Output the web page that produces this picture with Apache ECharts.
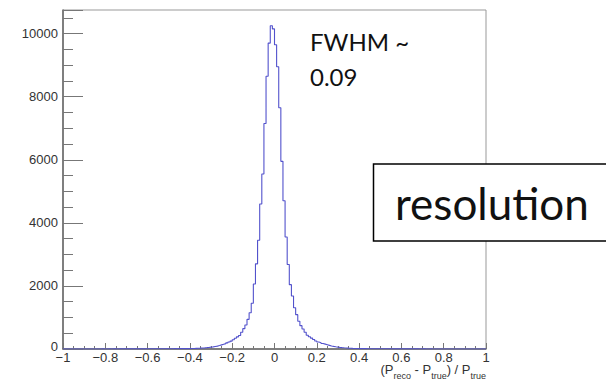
<!DOCTYPE html>
<html>
<head>
<meta charset="utf-8">
<script src="https://cdn.jsdelivr.net/npm/echarts@6/dist/echarts.min.js"></script>
<style>
html,body{margin:0;padding:0;background:#fff;}
#chart{width:606px;height:381px;}
</style>
</head>
<body>
<div id="chart"></div>
<script>
// Histogram definition: 200 bins from -1 to 1
const binLow = -1;
const binWidth = 0.01;
// Bin contents (left edge -1 ... right edge 1)
const counts = [
  1,0,1,1,0,1,1,2,1,1, 1,2,1,2,2,1,2,2,3,2,
  2,3,2,3,3,2,3,4,3,4, 4,3,5,4,4,5,5,6,5,6,
  6,7,6,7,8,7,8,9,8,10, 9,10,11,10,12,11,13,12,14,13,
  14,17,20,23,27,32,37,43,50,58,
  68,80,92,110,130,150,170,195,220,250,
  295,340,385,430,530,645,760,940,1150,1450,
  2060,2700,3450,4600,5550,7150,8650,9700,10250,10150,
  9650,8950,7650,5950,4700,3550,2680,2040,1680,1310,
  1090,880,740,635,530,435,390,345,300,255,
  222,200,175,155,135,115,95,82,70,60,
  52,45,39,34,29,25,21,18,15,13,
  12,11,11,10,9,10,8,9,8,7, 7,6,7,6,5,6,5,5,4,5,
  4,4,3,4,3,3,4,3,2,3, 3,2,2,3,2,2,1,2,2,1,
  2,1,1,2,1,1,1,0,1,1, 1,0,1,1,0,1,0,1,0,1
];
const xMin = -1, xMax = 1, xStep = 0.2;
const yMin = 0, yMax = 10750, yStep = 2000, yMinorStep = 500;
const xTitleParts = ['(P', 'reco', ' - P', 'true', ') / P', 'true'];
const noteLines = ['FWHM ~', '0.09'];
const boxLabel = 'resolution';

const histData = counts.map((v, i) => [binLow + i * binWidth, v]);
histData.push([binLow + counts.length * binWidth, counts[counts.length - 1]]);

const chart = echarts.init(document.getElementById('chart'), null, {renderer: 'svg'});

const labelFont = {fontFamily: 'Liberation Sans', fontSize: 13, color: '#333', lineHeight: 9};
const rich = {
  m: {fontFamily: 'Liberation Sans', fontSize: 13, lineHeight: 14, verticalAlign: 'top', fill: '#333'},
  s: {fontFamily: 'Liberation Sans', fontSize: 9, lineHeight: 9, padding: [8, 0, 0, 0], verticalAlign: 'top', fill: '#333'}
};
const titleText = xTitleParts.map((p, i) => (i % 2 === 0 ? '{m|' : '{s|') + p + '}').join('');

chart.setOption({
  animation: false,
  backgroundColor: '#fff',
  grid: {left: 63, right: 120, top: 10, bottom: 32, show: true, borderColor: '#999', borderWidth: 1, backgroundColor: 'transparent'},
  xAxis: {
    type: 'value', min: xMin, max: xMax, interval: xStep,
    axisLine: {onZero: false, lineStyle: {color: '#666', width: 1.5}},
    axisTick: {inside: true, length: 6, lineStyle: {color: '#777'}},
    minorTick: {show: true, splitNumber: 4, length: 3, lineStyle: {color: '#777'}},
    splitLine: {show: false},
    axisLabel: Object.assign({margin: 4, formatter: v => {
      const r = Math.round(v * 10) / 10;
      return r < 0 ? '\u2212' + Math.abs(r) : String(r);
    }}, labelFont)
  },
  yAxis: [{
    type: 'value', min: yMin, max: yMax, interval: yStep, position: 'left',
    axisLine: {show: true, onZero: false, lineStyle: {color: '#666', width: 1.5}},
    axisTick: {show: true, inside: true, length: 20, lineStyle: {color: '#777'}},
    splitLine: {show: false},
    axisLabel: Object.assign({
      margin: 5,
      formatter: v => (v % yStep !== 0 ? '' : (v === yMin ? '{z|' + v + '}' : String(v))),
      rich: {z: {fontFamily: 'Liberation Sans', fontSize: 13, color: '#333', lineHeight: 9, padding: [0, 0, 5, 0]}}
    }, labelFont)
  }, {
    type: 'value', min: yMin, max: yMax, interval: yMinorStep, position: 'left', offset: 0,
    axisLine: {show: false, onZero: false},
    axisTick: {show: true, inside: true, length: 10, lineStyle: {color: '#777'}},
    axisLabel: {show: false},
    splitLine: {show: false}
  }],
  series: [{
    type: 'line', step: 'end', data: histData, yAxisIndex: 0,
    symbol: 'none', showSymbol: false,
    lineStyle: {color: '#5252cc', width: 1.1}
  }],
  graphic: [
    {type: 'text', x: 486, y: 363, z: 50, style: {text: titleText, align: 'right', verticalAlign: 'top', rich: rich}},
    {type: 'text', x: 310, y: 29, z: 50, style: {text: noteLines[0], fontFamily: 'Lato', fontSize: 24, fill: '#111', align: 'left', verticalAlign: 'top'}},
    {type: 'text', x: 310, y: 64, z: 50, style: {text: noteLines[1], fontFamily: 'Lato', fontSize: 24, fill: '#111', align: 'left', verticalAlign: 'top'}},
    {type: 'rect', z: 60, shape: {x: 373.5, y: 164, width: 300, height: 77}, style: {fill: '#fff', stroke: '#000', lineWidth: 1.5}},
    {type: 'text', x: 395, y: 181, z: 70, style: {text: boxLabel, fontFamily: 'Lato', fontSize: 44, fill: '#111', align: 'left', verticalAlign: 'top'}}
  ]
});
</script>
</body>
</html>
